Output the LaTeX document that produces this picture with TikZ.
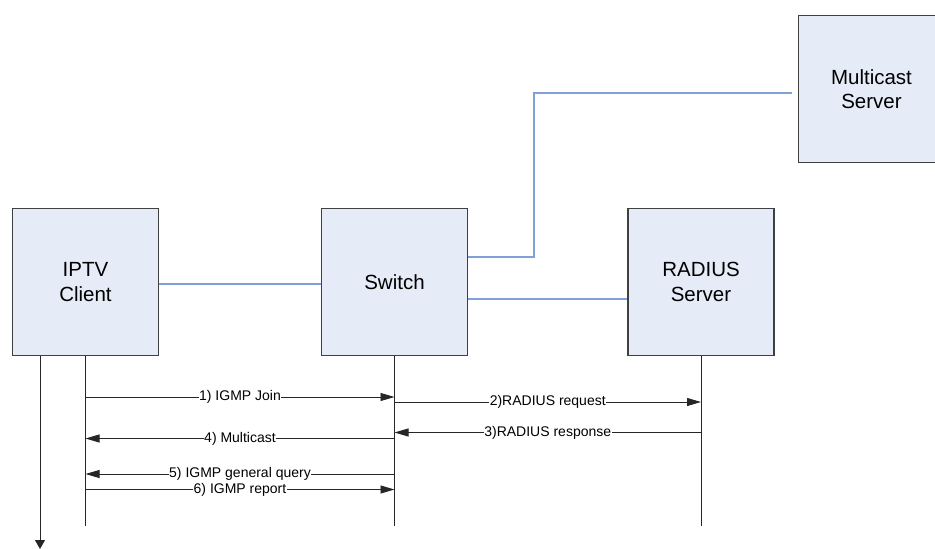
\documentclass[tikz,border=0pt]{standalone}
\usepackage{fontspec}
\setmainfont{Liberation Sans}
\usetikzlibrary{arrows.meta}
\definecolor{boxfill}{HTML}{E6ECF7}
\definecolor{boxline}{HTML}{404040}
\definecolor{linkblue}{HTML}{7FA1D8}
\begin{document}
\begin{tikzpicture}[x=1pt,y=-1pt,
  entity/.style={draw=boxline,line width=1.2pt,fill=boxfill,minimum width=146pt,minimum height=147pt,
    inner sep=0pt,align=center,font=\fontsize{20.5}{24.5}\selectfont},
  link/.style={draw=linkblue,line width=1.3pt},
  life/.style={draw=black!85,line width=0.9pt},
  msg/.style={draw=black!85,line width=0.9pt,-{Triangle[length=14pt,width=8pt]}},
  lbl/.style={fill=white,inner xsep=0.6pt,inner ysep=1pt,font=\fontsize{14}{16}\selectfont}]
\useasboundingbox (0,0) rectangle (935,549);
\clip (0,0) rectangle (935,549);
\node[entity] (client) at (85.5,282) {IPTV\\Client};
\node[entity] (switch) at (394.5,282) {Switch};
\node[entity] (radius) at (701,282) {RADIUS\\Server};
\node[entity] (mc) at (871.5,89) {Multicast\\Server};
% network links
\draw[link] (client.east |- 0,284) -- (switch.west |- 0,284);
\draw[link] (switch.east |- 0,299) -- (radius.west |- 0,299);
\coordinate (mcend) at ([xshift=-6pt]mc.west |- 0,93);
\draw[link] (switch.east |- 0,257) -| (534,93) -- (mcend);
% lifelines
\coordinate (cl) at (client.south |- 0,526);
\coordinate (sl) at (switch.south |- 0,526);
\coordinate (rl) at (radius.south |- 0,526);
\draw[life] (client.south) -- (cl);
\draw[life] (switch.south) -- (sl);
\draw[life] (radius.south) -- (rl);
\coordinate (tstart) at (40,356);
\coordinate (tend) at (40,549);
\draw[life,-{Triangle[length=9pt,width=10pt]}] (tstart) -- (tend);
% messages
\draw[msg] (client.south |- 0,397) -- node[lbl]{1) IGMP Join} (switch.south |- 0,397);
\draw[msg] (switch.south |- 0,402) -- node[lbl]{2)RADIUS request} (radius.south |- 0,402);
\draw[msg] (radius.south |- 0,432.5) -- node[lbl]{3)RADIUS response} (switch.south |- 0,432.5);
\draw[msg] (switch.south |- 0,438.5) -- node[lbl]{4) Multicast} (client.south |- 0,438.5);
\draw[msg] (switch.south |- 0,474) -- node[lbl]{5) IGMP general query} (client.south |- 0,474);
\draw[msg] (client.south |- 0,489.5) -- node[lbl]{6) IGMP report} (switch.south |- 0,489.5);
\end{tikzpicture}
\end{document}
